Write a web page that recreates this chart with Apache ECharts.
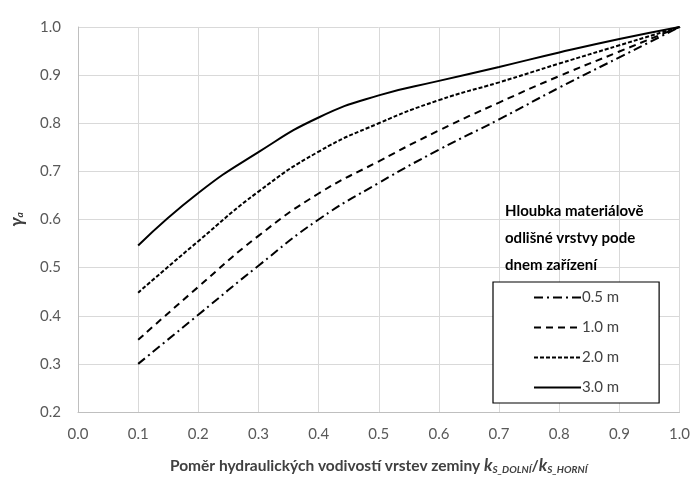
<!DOCTYPE html>
<html>
<head>
<meta charset="utf-8">
<script src="https://cdn.jsdelivr.net/npm/echarts@6/dist/echarts.min.js"></script>
<style>
html,body{margin:0;padding:0;background:#fff;}
#chart{width:693px;height:480px;}
</style>
</head>
<body>
<div id="chart"></div>
<script>
const xValues = [0.1, 0.2, 0.3, 0.4, 0.5, 0.6, 0.7, 0.8, 0.9, 1.0];
const seriesNames = ['0.5 m', '1.0 m', '2.0 m', '3.0 m'];
const y05 = [0.300, 0.402, 0.504, 0.600, 0.676, 0.745, 0.808, 0.874, 0.937, 1.0];
const y10 = [0.350, 0.460, 0.566, 0.654, 0.721, 0.785, 0.843, 0.898, 0.949, 1.0];
const y20 = [0.448, 0.555, 0.658, 0.741, 0.800, 0.848, 0.885, 0.924, 0.962, 1.0];
const y30 = [0.546, 0.655, 0.740, 0.812, 0.858, 0.888, 0.917, 0.947, 0.975, 1.0];
const xTicks = ['0.0','0.1','0.2','0.3','0.4','0.5','0.6','0.7','0.8','0.9','1.0'];
const yTicks = ['0.2','0.3','0.4','0.5','0.6','0.7','0.8','0.9','1.0'];
const legendTitle = 'Hloubka materiálově\nodlišné vrstvy pode\ndnem zařízení';

const FONT = 'Lato, "Open Sans", sans-serif';
const dashes = [[9, 4, 2, 4], [7, 5], [4, 2], 'solid'];
const allY = [y05, y10, y20, y30];

const chart = echarts.init(document.getElementById('chart'));
chart.setOption({
  animation: false,
  textStyle: { fontFamily: FONT },
  title: {
    text: legendTitle,
    left: 500,
    top: 193,
    textStyle: { fontFamily: FONT, fontSize: 15, fontWeight: 'bold', color: '#000', lineHeight: 27 }
  },
  grid: { left: 72, right: 10, top: 27, bottom: 66 },
  legend: {
    orient: 'vertical',
    left: 493,
    top: 282,
    padding: [8, 40, 8, 40],
    itemGap: 15,
    itemWidth: 47,
    itemHeight: 14,
    borderColor: '#000',
    borderWidth: 1.2,
    backgroundColor: '#fff',
    itemStyle: { opacity: 0 },
    textStyle: { fontFamily: FONT, fontSize: 15, color: '#404040', padding: [0, 0, 0, -4] },
    data: seriesNames
  },
  xAxis: {
    type: 'value',
    min: 0, max: 1, interval: 0.1,
    axisLine: { show: true, lineStyle: { color: '#bfbfbf', width: 1 } },
    axisTick: { show: false },
    splitLine: { show: true, lineStyle: { color: '#d9d9d9', width: 1 } },
    axisLabel: {
      margin: 15, fontSize: 15, color: '#595959', fontFamily: FONT,
      formatter: v => xTicks[Math.round(v * 10)]
    },
    name: '{m|Poměr hydraulických vodivostí vrstev zeminy }{k|k}{s|S_DOLNÍ}{m|/}{k|k}{s|S_HORNÍ}',
    nameLocation: 'middle',
    nameGap: 45,
    nameTextStyle: {
      rich: {
        m: { fontFamily: FONT, fontSize: 15.5, fontWeight: 'bold', color: '#404040' },
        k: { fontFamily: FONT, fontSize: 17, fontWeight: 'bold', fontStyle: 'italic', color: '#404040' },
        s: { fontFamily: FONT, fontSize: 10, fontWeight: 'bold', fontStyle: 'italic', color: '#404040', padding: [8, 0, 0, 0] }
      }
    }
  },
  yAxis: {
    type: 'value',
    min: 0.2, max: 1.0, interval: 0.1,
    axisLine: { show: true, lineStyle: { color: '#bfbfbf', width: 1 } },
    axisTick: { show: false },
    splitLine: { show: true, lineStyle: { color: '#d9d9d9', width: 1 } },
    axisLabel: {
      margin: 17, fontSize: 15, color: '#595959', fontFamily: FONT,
      formatter: v => yTicks[Math.round((v - 0.2) * 10)]
    },
    name: '{g|γ}{a|a}',
    nameLocation: 'middle',
    nameGap: 52,
    nameRotate: 90,
    nameTextStyle: {
      rich: {
        g: { fontFamily: FONT, fontSize: 18, fontWeight: 'bold', fontStyle: 'italic', color: '#404040' },
        a: { fontFamily: FONT, fontSize: 10, fontWeight: 'bold', fontStyle: 'italic', color: '#404040', padding: [6, 0, 0, 0] }
      }
    }
  },
  series: seriesNames.map((name, i) => ({
    name: name,
    type: 'line',
    smooth: 0.5,
    symbol: 'none',
    data: xValues.map((x, j) => [x, allY[i][j]]),
    lineStyle: { color: '#000', width: 2, type: dashes[i] },
    itemStyle: { color: '#000' }
  }))
});
</script>
</body>
</html>
